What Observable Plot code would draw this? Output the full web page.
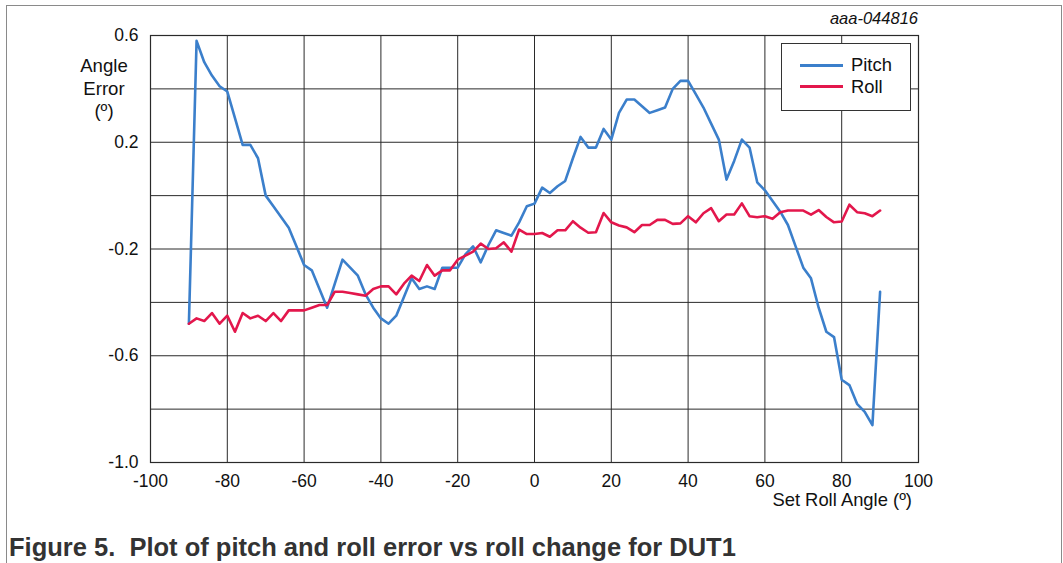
<!DOCTYPE html>
<html>
<head>
<meta charset="utf-8">
<script src="https://cdn.jsdelivr.net/npm/d3@7"></script>
<script src="https://cdn.jsdelivr.net/npm/@observablehq/plot@0.6"></script>
<style>
  html, body { margin: 0; padding: 0; background: #fff; overflow: hidden; }
  body { font-family: "Liberation Sans", Arial, Helvetica, sans-serif; color: #111; }
  #wrap { position: relative; width: 1063px; height: 563px; }
  #chart { position: absolute; left: 0; top: 0; }
  .abs { position: absolute; white-space: nowrap; }
</style>
</head>
<body>
<div id="wrap">
  <div class="abs" style="left:6px; top:5px; width:1054px; height:600px; border:1px solid #8a8a8a; border-bottom:none;"></div>
  <div id="chart"></div>
  <div class="abs" id="code" style="right:145px; top:9px; font-size:16.5px; font-style:italic;">aaa-044816</div>
  <div class="abs" id="ytitle" style="left:54px; top:55px; width:100px; text-align:center; font-size:18.6px; line-height:22.5px;">Angle<br>Error<br>(º)</div>
  <div class="abs" id="xtitle" style="right:151px; top:489px; font-size:18.4px;">Set Roll Angle (º)</div>
  <div class="abs" id="legend" style="left:781px; top:43px; width:128px; height:66px; border:1px solid #333; background:#fff;"></div>
  <div class="abs" id="caption" style="left:9px; top:533px; font-size:25.5px; font-weight:bold; color:#333;">Figure 5.&nbsp; Plot of pitch and roll error vs roll change for DUT1</div>
</div>
<script>
// ---- data ----
const rollAngle = [-90,-88,-86,-84,-82,-80,-78,-76,-74,-72,-70,-68,-66,-64,-62,-60,-58,-56,-54,-52,-50,-48,-46,-44,-42,-40,-38,-36,-34,-32,-30,-28,-26,-24,-22,-20,-18,-16,-14,-12,-10,-8,-6,-4,-2,0,2,4,6,8,10,12,14,16,18,20,22,24,26,28,30,32,34,36,38,40,42,44,46,48,50,52,54,56,58,60,62,64,66,68,70,72,74,76,78,80,82,84,86,88,90];
const pitchError = [-0.48,0.58,0.50,0.45,0.41,0.39,0.29,0.19,0.19,0.14,0.00,-0.04,-0.08,-0.12,-0.19,-0.26,-0.28,-0.35,-0.42,-0.33,-0.24,-0.27,-0.30,-0.37,-0.42,-0.46,-0.48,-0.45,-0.38,-0.31,-0.35,-0.34,-0.35,-0.27,-0.27,-0.27,-0.22,-0.19,-0.25,-0.185,-0.13,-0.14,-0.15,-0.10,-0.04,-0.03,0.03,0.01,0.035,0.055,0.14,0.22,0.18,0.18,0.25,0.21,0.31,0.36,0.36,0.335,0.31,0.32,0.33,0.40,0.43,0.43,0.38,0.33,0.27,0.21,0.06,0.13,0.21,0.18,0.05,0.02,-0.02,-0.06,-0.11,-0.19,-0.27,-0.31,-0.42,-0.51,-0.53,-0.69,-0.71,-0.78,-0.81,-0.86,-0.36];
const rollError = [-0.48,-0.46,-0.47,-0.44,-0.48,-0.45,-0.51,-0.44,-0.46,-0.45,-0.47,-0.44,-0.47,-0.43,-0.43,-0.43,-0.42,-0.41,-0.41,-0.36,-0.36,-0.365,-0.37,-0.375,-0.35,-0.34,-0.34,-0.37,-0.33,-0.30,-0.32,-0.26,-0.30,-0.28,-0.28,-0.24,-0.225,-0.21,-0.18,-0.20,-0.197,-0.175,-0.21,-0.127,-0.144,-0.144,-0.14,-0.154,-0.13,-0.13,-0.096,-0.12,-0.139,-0.137,-0.065,-0.10,-0.112,-0.119,-0.137,-0.11,-0.11,-0.091,-0.091,-0.106,-0.104,-0.077,-0.10,-0.066,-0.047,-0.096,-0.071,-0.071,-0.029,-0.077,-0.081,-0.077,-0.087,-0.062,-0.056,-0.056,-0.056,-0.071,-0.054,-0.08,-0.10,-0.097,-0.034,-0.062,-0.066,-0.077,-0.056];
const seriesNames = ["Pitch", "Roll"];
const seriesColors = ["#3b7fcb", "#e3174c"];
const xTicks = [-100,-80,-60,-40,-20,0,20,40,60,80,100];
const yTicks = [-1.0,-0.6,-0.2,0.2,0.6];
const yGrid = [-1.0,-0.8,-0.6,-0.4,-0.2,0,0.2,0.4,0.6];

const rows = [];
rollAngle.forEach((a, i) => {
  rows.push({angle: a, error: pitchError[i], series: seriesNames[0]});
  rows.push({angle: a, error: rollError[i], series: seriesNames[1]});
});

const chart = Plot.plot({
  width: 1063,
  height: 525,
  marginLeft: 150,
  marginRight: 145,
  marginTop: 35,
  marginBottom: 63,
  style: {fontFamily: '"Liberation Sans", Arial, sans-serif', fontSize: "17.5px", color: "#111", background: "transparent"},
  x: {domain: [-100, 100], label: null},
  y: {domain: [-1.0, 0.6], label: null},
  color: {domain: seriesNames, range: seriesColors},
  marks: [
    Plot.ruleX(xTicks, {stroke: "#2a2a2a", strokeWidth: 1}),
    Plot.ruleY(yGrid, {stroke: "#2a2a2a", strokeWidth: 1}),
    Plot.frame({stroke: "#2a2a2a", strokeWidth: 1.2}),
    Plot.lineY(rows, {x: "angle", y: "error", z: "series", stroke: "series", strokeWidth: 2.6, curve: "linear"}),
    Plot.axisX({ticks: xTicks, tickSize: 0, tickPadding: 12, tickFormat: d => String(d), label: null}),
    Plot.axisY({ticks: yTicks, tickSize: 0, tickPadding: 12, tickFormat: d => d.toFixed(1), label: null})
  ]
});
document.getElementById("chart").appendChild(chart);

// legend
const legend = document.getElementById("legend");
seriesNames.forEach((name, i) => {
  const row = document.createElement("div");
  row.style.cssText = "position:absolute; left:18px; top:" + (10 + i * 21.5) + "px; height:22px; display:flex; align-items:center; font-size:18.4px;";
  const sw = document.createElement("span");
  sw.style.cssText = "display:inline-block; width:43px; height:3px; background:" + seriesColors[i] + "; margin-right:8px;";
  const tx = document.createElement("span");
  tx.textContent = name;
  row.appendChild(sw); row.appendChild(tx);
  legend.appendChild(row);
});
</script>
</body>
</html>
